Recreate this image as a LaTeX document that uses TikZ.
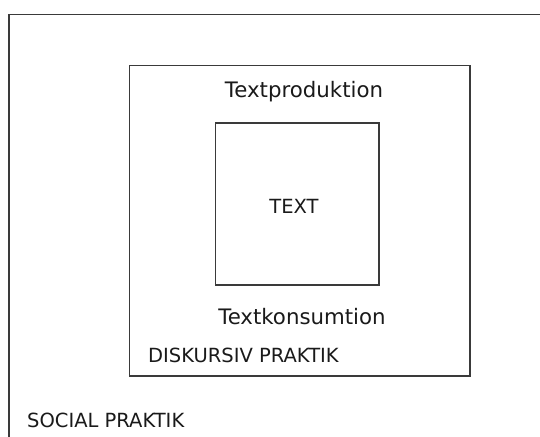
\documentclass[tikz,border=0pt]{standalone}
\usepackage{fontspec}
\setmainfont{DejaVu Sans}
\definecolor{frame}{HTML}{3A3A3A}
\definecolor{ink}{HTML}{1A1A1A}
\begin{document}
\begin{tikzpicture}[x=1pt,y=-1pt,
  boxline/.style={draw=frame,line width=1.7pt},
  lbl/.style={inner sep=0pt,text=ink,font=\fontsize{21.3}{25}\selectfont},
  caplbl/.style={inner sep=0pt,text=ink,font=\fontsize{19.5}{23}\selectfont}]
\useasboundingbox (0,0) rectangle (540,436);
\fill[white] (0,0) rectangle (540,436);
\begin{scope}
\clip (0,0) rectangle (540,436);
% outer box (social practice), open beyond the page
\coordinate (oTL) at (9,14.5);
\coordinate (oBR) at (560,460);
\draw[boxline] (oTL) rectangle (oBR);
\end{scope}
% middle box (discursive practice)
\coordinate (mTL) at (129.5,65.5);
\coordinate (mBR) at (470,376);
\draw[boxline] (mTL) rectangle (mBR);
% inner box (text)
\coordinate (iTL) at (215.5,123);
\coordinate (iBR) at (379,285);
\draw[boxline] (iTL) rectangle (iBR);
% labels
\node[lbl,anchor=base] (prod) at (304,97) {Textproduktion};
\node[caplbl,anchor=base] (text) at (294,213) {TEXT};
\node[lbl,anchor=base] (kons) at (302,324) {Textkonsumtion};
\node[caplbl,anchor=base west] (disk) at (148,362) {DISKURSIV PRAKTIK};
\node[caplbl,anchor=base west] (soc) at (27,427) {SOCIAL PRAKTIK};
\end{tikzpicture}
\end{document}
